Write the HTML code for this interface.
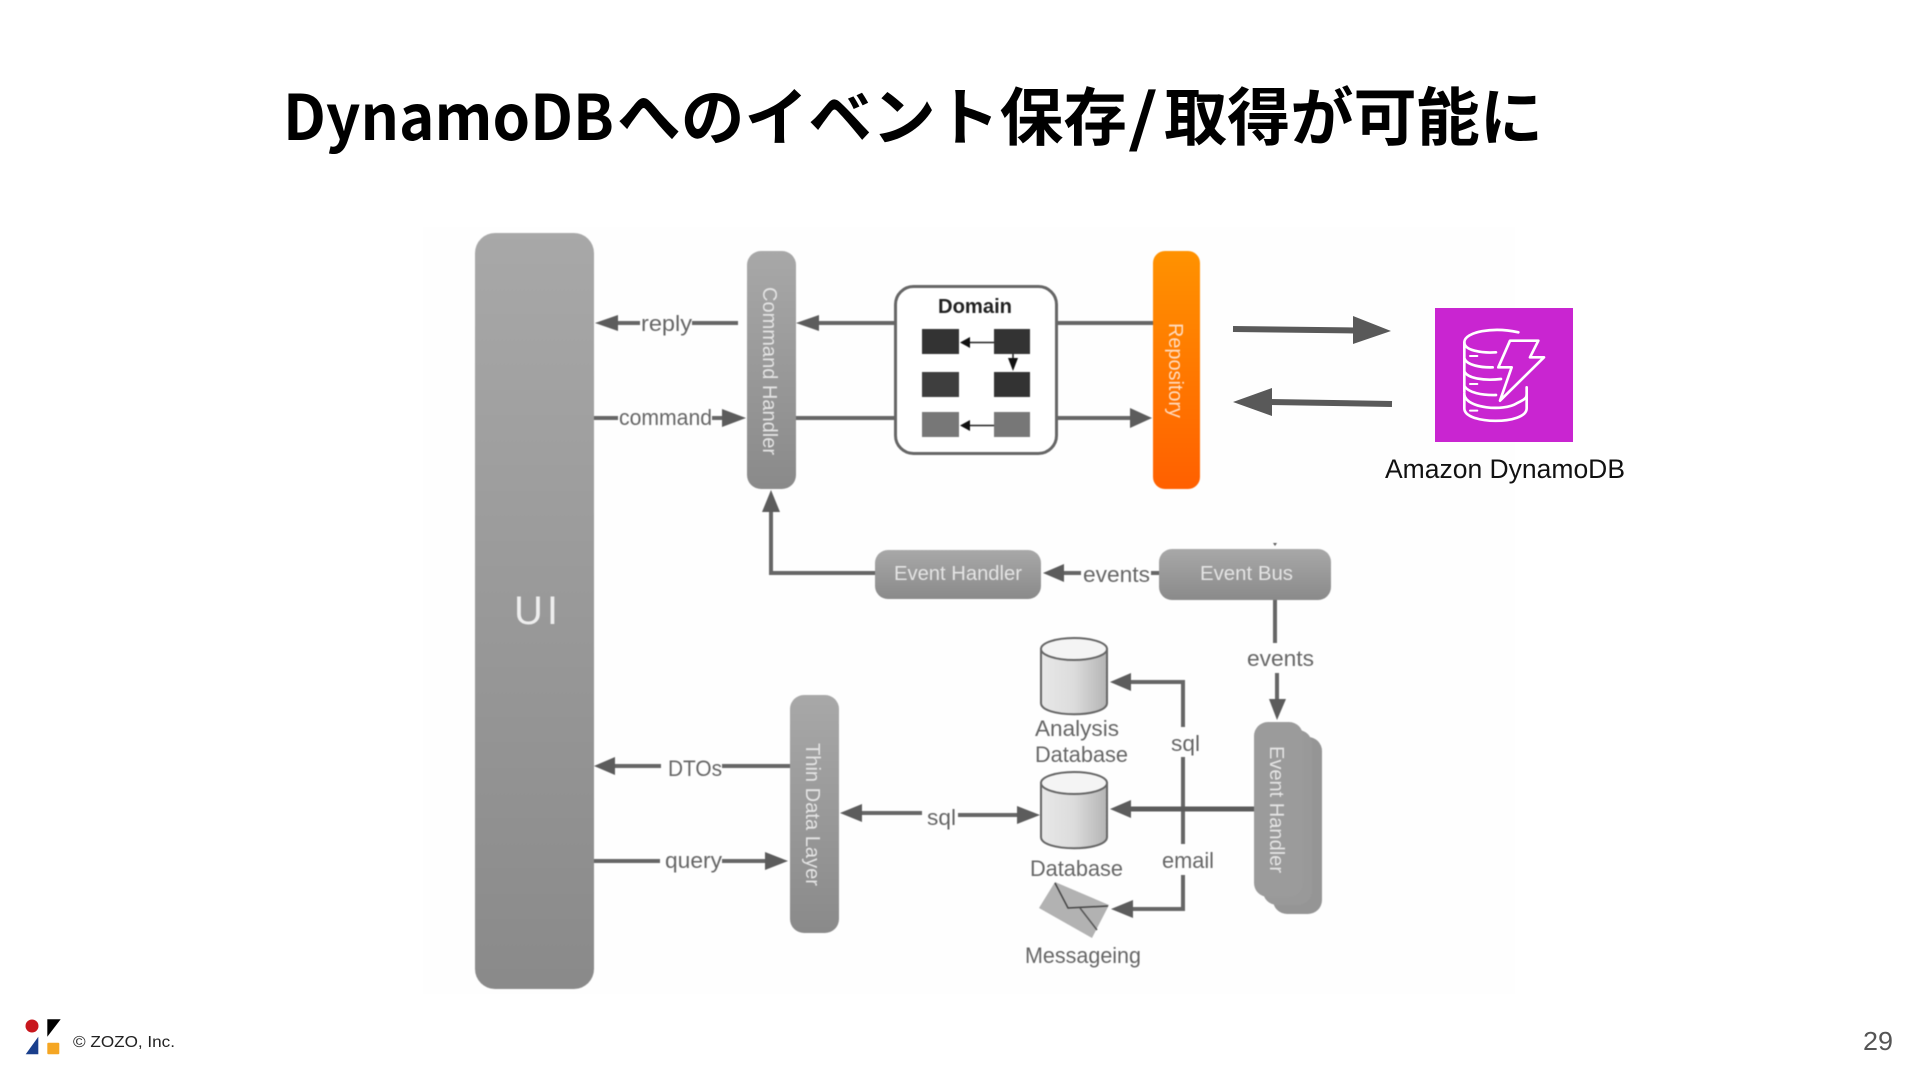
<!DOCTYPE html>
<html lang="ja">
<head>
<meta charset="utf-8">
<title>DynamoDBへのイベント保存/取得が可能に</title>
<style>
html,body{margin:0;padding:0;background:#fff;width:1920px;height:1080px;overflow:hidden}
svg{display:block}
text{font-family:"Liberation Sans","Noto Sans CJK JP",sans-serif}
.t{font-family:"Noto Sans CJK JP",sans-serif;font-size:63px;font-weight:700;fill:#000}
.l{font-size:22px;fill:#666}
.w{font-size:20px;fill:#e4e4e4}
.c{stroke:#666;stroke-width:4;fill:none}
.h{fill:#5c5c5c}
.i{fill:none;stroke:#fff;stroke-width:8;stroke-linecap:round;stroke-linejoin:round}
.d{filter:blur(.6px)}
</style>
</head>
<body>
<svg width="1920" height="1080" viewBox="0 0 1920 1080" xmlns="http://www.w3.org/2000/svg">
<defs>
<linearGradient id="g" x1="0" y1="0" x2="0" y2="1"><stop offset="0" stop-color="#a8a8a8"/><stop offset="1" stop-color="#8a8a8a"/></linearGradient>
<linearGradient id="o" x1="0" y1="0" x2="0" y2="1"><stop offset="0" stop-color="#ff9200"/><stop offset="1" stop-color="#ff6000"/></linearGradient>
<linearGradient id="cy" x1="0" y1="0" x2="1" y2="0"><stop offset="0" stop-color="#e8e8e8"/><stop offset=".5" stop-color="#dcdcdc"/><stop offset="1" stop-color="#b4b4b4"/></linearGradient>
</defs>

<text x="283" y="140" class="t" textLength="331" lengthAdjust="spacingAndGlyphs">DynamoDB</text>
<text x="617" y="140" class="t" textLength="510" lengthAdjust="spacingAndGlyphs">へのイベント保存</text>
<text x="1128" y="140" class="t" textLength="30" lengthAdjust="spacingAndGlyphs">/</text>
<text x="1164" y="140" class="t" textLength="379" lengthAdjust="spacingAndGlyphs">取得が可能に</text>

<rect x="423" y="227" width="1092" height="767" fill="#fefefe"/>

<g class="d">
<!-- Nodes -->
<rect x="475" y="233" width="119" height="756" rx="20" fill="url(#g)"/>
<text x="514" y="624" font-size="40" fill="#eee" textLength="44" lengthAdjust="spacing">UI</text>

<rect x="747" y="251" width="49" height="238" rx="14" fill="url(#g)"/>
<text transform="translate(763,287) rotate(90)" class="w" textLength="168" lengthAdjust="spacingAndGlyphs">Command Handler</text>

<rect x="1153" y="251" width="47" height="238" rx="12" fill="url(#o)"/>
<text transform="translate(1169,323) rotate(90)" style="fill:#ffdcc0;font-size:20px" textLength="95" lengthAdjust="spacingAndGlyphs">Repository</text>

<rect x="790" y="695" width="49" height="238" rx="14" fill="url(#g)"/>
<text transform="translate(806,743) rotate(90)" class="w" textLength="143" lengthAdjust="spacingAndGlyphs">Thin Data Layer</text>

<rect x="875" y="550" width="166" height="49" rx="13" fill="url(#g)"/>
<text x="894" y="580" class="w" textLength="128" lengthAdjust="spacingAndGlyphs">Event Handler</text>

<rect x="1159" y="549" width="172" height="51" rx="13" fill="url(#g)"/>
<text x="1200" y="580" class="w" textLength="93" lengthAdjust="spacingAndGlyphs">Event Bus</text>

<!-- Event Handler stack -->
<rect x="1273" y="737" width="49" height="177" rx="14" fill="#959595"/>
<rect x="1263" y="730" width="49" height="175" rx="14" fill="#999"/>
<rect x="1254" y="722" width="49" height="175" rx="14" fill="#9b9b9b"/>
<text transform="translate(1270,746) rotate(90)" class="w" textLength="127" lengthAdjust="spacingAndGlyphs">Event Handler</text>

<!-- Domain -->
<rect x="895.5" y="286.5" width="161" height="167" rx="18" fill="#fff" stroke="#666" stroke-width="3"/>
<text x="975" y="313" font-size="20" font-weight="700" fill="#222" text-anchor="middle" textLength="74" lengthAdjust="spacingAndGlyphs">Domain</text>
<rect x="922" y="329" width="37" height="25" fill="#333"/>
<rect x="994" y="329" width="36" height="25" fill="#333"/>
<rect x="922" y="372" width="37" height="25" fill="#3e3e3e"/>
<rect x="994" y="372" width="36" height="25" fill="#333"/>
<rect x="922" y="412" width="37" height="25" fill="#777"/>
<rect x="994" y="412" width="36" height="25" fill="#777"/>
<path d="M970 342.500H994M1013 354V364M970 425.500H994" stroke="#222" stroke-width="1.500" fill="none"/>
<polygon points="960,342.500 970,337 970,348" fill="#111"/>
<polygon points="1013,371 1008,358 1018,358" fill="#111"/>
<polygon points="960,425.500 970,420 970,431" fill="#111"/>

<!-- Top connectors -->
<path class="c" d="M618 323H640M692 323H738M819 323H894M1056 323H1153M594 418H618M712 418H722M796 418H894M1056 418H1132"/>
<polygon class="h" points="595,323 618,315 618,331"/>
<polygon class="h" points="796,323 819,315 819,331"/>
<polygon class="h" points="746,418 722,409 722,427"/>
<polygon class="h" points="1152,418 1130,408 1130,428"/>
<text x="641" y="331" class="l" textLength="51" lengthAdjust="spacingAndGlyphs">reply</text>
<text x="619" y="425" class="l" textLength="93" lengthAdjust="spacingAndGlyphs">command</text>

<path class="c" d="M875 573H771V510"/>
<polygon class="h" points="771,490 762,512 780,512"/>
<path class="c" d="M1063 573H1081M1151 573H1159"/>
<polygon class="h" points="1043,573 1064,564 1064,582"/>
<text x="1083" y="582" class="l" textLength="67" lengthAdjust="spacingAndGlyphs">events</text>

<path class="c" d="M1275 600V643M1277 673V700"/>
<polygon class="h" points="1277,720 1269,699 1286,699"/>
<polygon class="h" points="1275,546 1273,543 1277,543"/>
<text x="1247" y="666" class="l" textLength="67" lengthAdjust="spacingAndGlyphs">events</text>

<!-- Lower connectors -->
<path class="c" d="M1131 682H1183V727M1183 757V844M1183 875V909H1132"/>
<path d="M1130 809H1254" stroke="#5c5c5c" stroke-width="5" fill="none"/>
<polygon class="h" points="1110,682 1131,673 1131,691"/>
<polygon class="h" points="1110,809 1131,800 1131,818"/>
<polygon class="h" points="1111,909 1133,900 1133,918"/>
<text x="1171" y="751" class="l" textLength="29" lengthAdjust="spacingAndGlyphs">sql</text>
<text x="1162" y="868" class="l" textLength="52" lengthAdjust="spacingAndGlyphs">email</text>

<path class="c" d="M615 766H661M722 766H790M594 861H660M722 861H767M862 813H922M958 815H1018"/>
<polygon class="h" points="594,766 615,757 615,775"/>
<polygon class="h" points="788,861 765,852 765,870"/>
<polygon class="h" points="840,813 862,804 862,822"/>
<polygon class="h" points="1040,815 1017,806 1017,824"/>
<text x="668" y="776" class="l" textLength="54" lengthAdjust="spacingAndGlyphs">DTOs</text>
<text x="665" y="868" class="l" textLength="57" lengthAdjust="spacingAndGlyphs">query</text>
<text x="927" y="825" class="l" textLength="29" lengthAdjust="spacingAndGlyphs">sql</text>

<!-- Cylinders -->
<g stroke="#666" stroke-width="2">
<path d="M1041 649V703C1041 718 1107 718 1107 703V649Z" fill="url(#cy)"/>
<ellipse cx="1074" cy="649" rx="33" ry="11" fill="#f4f4f4"/>
<path d="M1041 783V837C1041 852 1107 852 1107 837V783Z" fill="url(#cy)"/>
<ellipse cx="1074" cy="783" rx="33" ry="11" fill="#f4f4f4"/>
</g>
<text x="1035" y="736" class="l" textLength="84" lengthAdjust="spacingAndGlyphs">Analysis</text>
<text x="1035" y="762" class="l" textLength="93" lengthAdjust="spacingAndGlyphs">Database</text>
<text x="1030" y="876" class="l" textLength="93" lengthAdjust="spacingAndGlyphs">Database</text>
<text x="1025" y="963" class="l" textLength="116" lengthAdjust="spacingAndGlyphs">Messageing</text>

<!-- Envelope -->
<polygon points="1055,882 1109,905 1092,938 1039,908" fill="#b2b2b2"/>
<path d="M1055 883L1068 908L1108 906" fill="none" stroke="#444" stroke-width="1.500"/>
<path d="M1080 908L1097 930" fill="none" stroke="#555" stroke-width="1.500"/>
</g>

<!-- Right side arrows -->
<path d="M1233 329L1355 330.500M1270 402L1392 404" stroke="#595959" stroke-width="6" fill="none"/>
<polygon points="1391,331 1353,316 1353,344" fill="#595959"/>
<polygon points="1233,402 1272,388 1272,416" fill="#595959"/>

<!-- DynamoDB -->
<rect x="1435" y="308" width="138" height="134" fill="#c925d1"/>
<g transform="translate(1200,280) scale(.33333)">
<path class="i" d="M955 157C880 140 793 155 793 187C793 210 840 220 888 217"/>
<path class="i" d="M793 187V335"/>
<path class="i" d="M793 235C800 255 840 263 878 262"/>
<path class="i" d="M793 275C805 295 850 303 903 297"/>
<path class="i" d="M793 318C805 338 845 346 888 345"/>
<path class="i" d="M793 340V385C793 435 980 435 980 385V322"/>
<path class="i" d="M793 345C800 385 910 395 950 370C970 360 980 355 980 345"/>
<path class="i" d="M930 182H1015L990 232H1032L900 362L935 262H895Z"/>
<path class="i" style="stroke-width:6" d="M810 228H832M810 312H832M810 392H832"/>
</g>
<text x="1385" y="478" font-size="27" fill="#111" textLength="240" lengthAdjust="spacingAndGlyphs">Amazon DynamoDB</text>

<!-- Footer -->
<circle cx="32" cy="1026" r="6.500" fill="#c8161d"/>
<polygon points="47.300,1019.300 60.700,1019.300 47.300,1036.700" fill="#000"/>
<polygon points="38.300,1036.700 38.300,1054.300 25.700,1054.300" fill="#1a3f8c"/>
<rect x="47.300" y="1042.700" width="12" height="11.600" rx="1" fill="#f5a623"/>
<text x="73" y="1047" font-size="16" fill="#222" textLength="102" lengthAdjust="spacingAndGlyphs">© ZOZO, Inc.</text>
<text x="1863" y="1050" font-size="26" fill="#555" textLength="30" lengthAdjust="spacingAndGlyphs">29</text>
</svg>
</body>
</html>
